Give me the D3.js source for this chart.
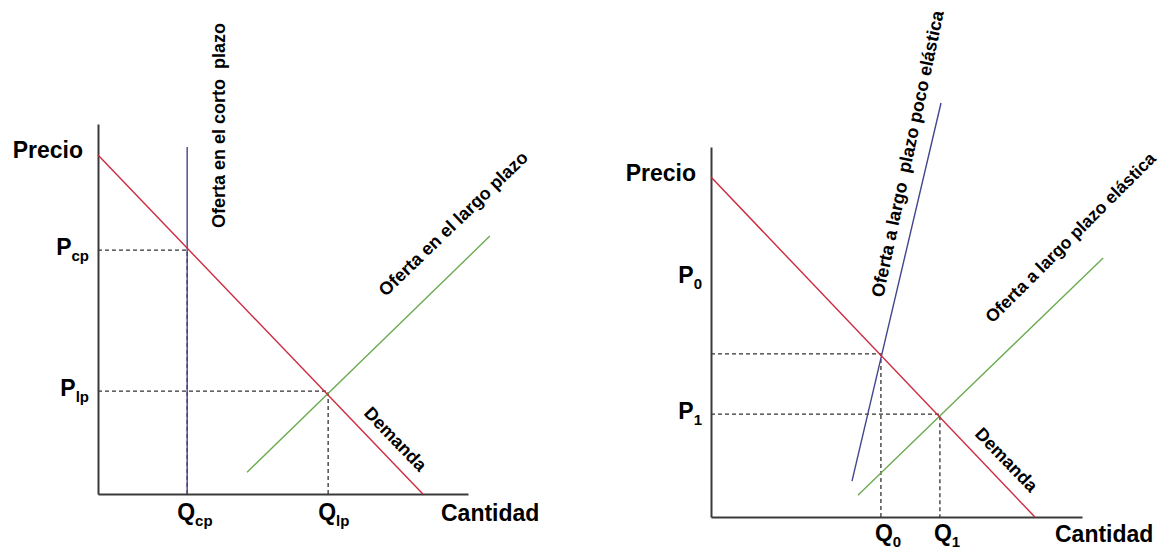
<!DOCTYPE html>
<html>
<head>
<meta charset="utf-8">
<script src="https://cdn.jsdelivr.net/npm/d3@7"></script>
<style>
  body { margin: 0; background: #fff; }
  svg text { font-family: "Liberation Sans", Arial, sans-serif; font-weight: bold; fill: #000; white-space: pre; }
</style>
</head>
<body>
<svg width="1164" height="549"></svg>
<script>
// left panel: short run vs long run supply (units 0-100 on both axes)
const leftDemand = [[0, 91.6], [87.8, 0]];
const leftShortSupply = [[24.1, 93.8], [24.1, 0]];
const leftLongSupply = [[40.3, 5.9], [105.9, 69.7]];
const leftEquilibria = [[24.1, 65.9], [62.2, 27.8]];
const leftPriceLabels = [["P", "cp", 65.9], ["P", "lp", 27.8]];
const leftQtyLabels = [["Q", "cp", 24.1], ["Q", "lp", 62.2]];

// right panel: inelastic vs elastic long run supply
const rightDemand = [[0, 91.9], [87.3, 0]];
const rightInelastic = [[38.0, 9.7], [62.0, 111.9]];
const rightElastic = [[39.6, 5.9], [105.7, 70.0]];
const rightEquilibria = [[45.8, 44.1], [61.7, 27.8]];
const rightPriceLabels = [["P", "0", 64.6], ["P", "1", 27.8]];
const rightQtyLabels = [["Q", "0", 45.8], ["Q", "1", 61.7]];

const svg = d3.select("svg");

function drawPanel(cfg) {
    const x = d3.scaleLinear().domain([0, 100]).range(cfg.xr);
    const y = d3.scaleLinear().domain([0, 100]).range(cfg.yr);
    const g = svg.append("g");
    const line = d3.line().x(d => x(d[0])).y(d => y(d[1]));

    // dashed guides
    cfg.eq.forEach(d => {
        g.append("path")
            .attr("d", line([[0, d[1]], d, [d[0], 0]]))
            .attr("fill", "none")
            .attr("stroke", "#333")
            .attr("stroke-width", 1.3)
            .attr("stroke-dasharray", "4,3");
    });

    // axes
    g.append("g").attr("transform", `translate(${x(0)},0)`)
        .call(d3.axisLeft(y).tickValues([]).tickSizeOuter(0))
        .select(".domain").attr("stroke", "#3a3a3a").attr("stroke-width", 2);
    g.append("g").attr("transform", `translate(0,${y(0)})`)
        .call(d3.axisBottom(x).tickValues([]).tickSizeOuter(0))
        .select(".domain").attr("stroke", "#3a3a3a").attr("stroke-width", 2);

    // curves
    cfg.curves.forEach(c => {
        g.append("path")
            .attr("d", line(c.data))
            .attr("fill", "none")
            .attr("stroke", c.color)
            .attr("stroke-width", 1.4);
    });

    // axis titles
    g.append("text")
        .attr("x", x(0) - 15).attr("y", y(100) + 34)
        .attr("text-anchor", "end")
        .style("font-size", "23px")
        .text("Precio");
    g.append("text")
        .attr("x", x(100) - 27).attr("y", y(0) + cfg.qOff + 1)
        .style("font-size", "23px")
        .text("Cantidad");

    // P and Q labels with subscripts
    cfg.pLabels.forEach(d => {
        const t = g.append("text")
            .attr("x", x(0) - 9).attr("y", y(d[2]) + 5)
            .attr("text-anchor", "end")
            .style("font-size", "23px");
        t.append("tspan").text(d[0]);
        t.append("tspan").attr("dy", 6).style("font-size", "15px").text(d[1]);
    });
    cfg.qLabels.forEach(d => {
        const t = g.append("text")
            .attr("x", x(d[2]) + cfg.qShift).attr("y", y(0) + cfg.qOff)
            .style("font-size", "23px");
        t.append("tspan").text(d[0]);
        t.append("tspan").attr("dy", 6).style("font-size", "15px").text(d[1]);
    });

    // curve labels
    cfg.notes.forEach(n => {
        g.append("text")
            .attr("transform", `translate(${x(n.at[0])},${y(n.at[1])}) rotate(${n.rot})`)
            .style("font-size", n.size || "18px")
            .text(n.text);
    });
}

drawPanel({
    xr: [98, 468], yr: [494, 124],
    eq: leftEquilibria, pLabels: leftPriceLabels, qLabels: leftQtyLabels,
    qOff: 26, qShift: -10,
    curves: [
        { data: leftShortSupply, color: "#45458c" },
        { data: leftLongSupply, color: "#6cab52" },
        { data: leftDemand, color: "#cc2a3f" }
    ],
    notes: [
        { text: "Oferta en el corto  plazo", at: [34.3, 71.9], rot: -90 },
        { text: "Oferta en el largo plazo", at: [77.8, 53.2], rot: -44 },
        { text: "Demanda", at: [71.6, 21.6], rot: 46 }
    ]
});

drawPanel({
    xr: [711, 1082], yr: [517, 147],
    eq: rightEquilibria, pLabels: rightPriceLabels, qLabels: rightQtyLabels,
    qOff: 24, qShift: -6,
    curves: [
        { data: rightInelastic, color: "#45458c" },
        { data: rightElastic, color: "#6cab52" },
        { data: rightDemand, color: "#cc2a3f" }
    ],
    notes: [
        { text: "Oferta a largo  plazo poco elástica", at: [46.4, 59.2], rot: -78 },
        { text: "Oferta a largo plazo elástica", at: [75.9, 52.2], rot: -45, size: "17.5px" },
        { text: "Demanda", at: [70.9, 22.2], rot: 46 }
    ]
});
</script>
</body>
</html>
